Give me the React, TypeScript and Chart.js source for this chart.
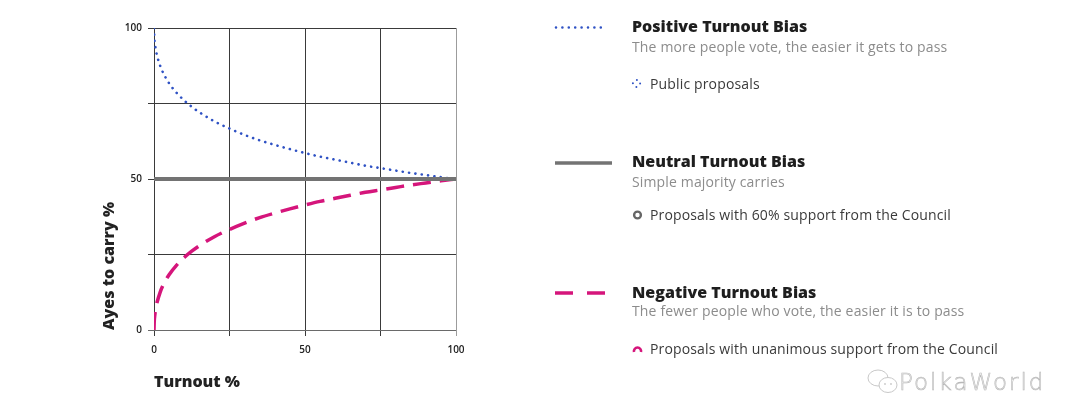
import React, { useEffect, useRef } from "react";
import { Chart, registerables } from "chart.js";

Chart.register(...registerables);

// Turnout (%) sample positions
const turnout = [0, 0.1, 0.25, 0.5, 1, 2, 3, 5, 7.5, 10, 12.5, 15, 20, 25, 30, 35, 40, 45, 50, 55, 60, 65, 70, 75, 80, 85, 90, 95, 100];
// Ayes to carry (%) for each curve
const positiveBias = [100, 96.9, 95.2, 93.4, 90.9, 87.6, 85.2, 81.7, 78.5, 76.0, 73.9, 72.1, 69.1, 66.7, 64.6, 62.8, 61.3, 59.9, 58.6, 57.4, 56.4, 55.4, 54.4, 53.6, 52.8, 52.0, 51.3, 50.6, 50];
const negativeBias = [0, 3.1, 4.8, 6.6, 9.1, 12.4, 14.8, 18.3, 21.5, 24.0, 26.1, 27.9, 30.9, 33.3, 35.4, 37.2, 38.7, 40.1, 41.4, 42.6, 43.6, 44.6, 45.6, 46.4, 47.2, 48.0, 48.7, 49.4, 50];
const neutralTurnout = [0, 100];
const neutralBias = [50, 50];

const tickValuesShown = [0, 50, 100];

const seriesNames = ["Positive Turnout Bias", "Neutral Turnout Bias", "Negative Turnout Bias"];
const seriesDescriptions = [
  "The more people vote, the easier it gets to pass",
  "Simple majority carries",
  "The fewer people who vote, the easier it is to pass",
];
const seriesExamples = [
  "Public proposals",
  "Proposals with 60% support from the Council",
  "Proposals with unanimous support from the Council",
];

const BLUE = "#2f52c4";
const GREY = "#737373";
const MAGENTA = "#d5157b";

function toPoints(xs: number[], ys: number[]) {
  return xs.map((x, i) => ({ x, y: ys[i] }));
}

function ChartCanvas() {
  const ref = useRef<HTMLCanvasElement | null>(null);
  useEffect(() => {
    if (!ref.current) return;
    const chart = new Chart(ref.current, {
      type: "line",
      data: {
        datasets: [
          {
            label: seriesNames[1],
            data: toPoints(neutralTurnout, neutralBias),
            borderColor: GREY,
            borderWidth: 4,
            pointRadius: 0,
          },
          {
            label: seriesNames[0],
            data: toPoints(turnout, positiveBias),
            borderColor: BLUE,
            borderWidth: 2.6,
            borderDash: [0.1, 6.3],
            borderCapStyle: "round",
            pointRadius: 0,
            cubicInterpolationMode: "monotone",
          },
          {
            label: seriesNames[2],
            data: toPoints(turnout, negativeBias),
            borderColor: MAGENTA,
            borderWidth: 3.5,
            borderDash: [18, 9],
            pointRadius: 0,
            cubicInterpolationMode: "monotone",
          },
        ],
      },
      options: {
        animation: false,
        responsive: false,
        maintainAspectRatio: false,
        layout: { padding: { top: 28, right: 84, bottom: 0, left: 0 } },
        plugins: { legend: { display: false }, tooltip: { enabled: false } },
        scales: {
          x: {
            type: "linear",
            min: 0,
            max: 100,
            border: { display: false },
            grid: {
              color: (c: any) => (c.tick && c.tick.value === 100 ? "#9c9c9c" : "#3a3a3a"),
              lineWidth: 1,
              drawTicks: true,
              tickLength: 6,
            },
            ticks: {
              stepSize: 25,
              padding: 8,
              maxRotation: 0,
              color: "#222",
              font: { family: "Open Sans", size: 10, weight: "600" },
              callback: (v: any) => (tickValuesShown.includes(Number(v)) ? String(v) : ""),
            },
            title: {
              display: true,
              text: "Turnout %",
              align: "start",
              color: "#222",
              font: { family: "Open Sans", size: 16, weight: "800" },
              padding: { top: 0, bottom: 6 },
            },
            afterFit: (scale: any) => {
              scale.height = 68;
            },
          },
          y: {
            type: "linear",
            min: 0,
            max: 100,
            border: { display: false },
            grid: {
              color: (c: any) => (c.tick && c.tick.value === 0 ? "#6a6a6a" : "#3a3a3a"),
              lineWidth: 1,
              drawTicks: true,
              tickLength: 6,
            },
            ticks: {
              stepSize: 25,
              padding: 6,
              color: "#222",
              font: { family: "Open Sans", size: 10, weight: "600" },
              callback: (v: any) => (tickValuesShown.includes(Number(v)) ? String(v) : ""),
            },
            title: {
              display: true,
              text: "Ayes to carry %",
              align: "start",
              color: "#222",
              font: { family: "Open Sans", size: 16, weight: "800" },
              padding: { top: 100, bottom: 0 },
            },
            afterFit: (scale: any) => {
              scale.width = 154;
            },
          },
        },
      } as any,
    });
    return () => chart.destroy();
  }, []);
  return (
    <canvas
      ref={ref}
      width={540}
      height={398}
      style={{ position: "absolute", left: 0, top: 0, width: 540, height: 398 }}
    />
  );
}

const titleStyle = (center: number): React.CSSProperties => ({
  position: "absolute",
  left: 632,
  top: center - 10,
  fontSize: 16,
  lineHeight: "20px",
  fontWeight: 800,
  color: "#1e1e1e",
  whiteSpace: "nowrap",
});
const subStyle = (center: number): React.CSSProperties => ({
  position: "absolute",
  left: 632,
  top: center - 9,
  fontSize: 14,
  lineHeight: "18px",
  letterSpacing: 0.15,
  color: "#8c8c8c",
  whiteSpace: "nowrap",
});
const itemStyle = (center: number): React.CSSProperties => ({
  position: "absolute",
  left: 650,
  top: center - 9,
  fontSize: 14,
  lineHeight: "18px",
  letterSpacing: 0.15,
  color: "#3a3a3a",
  whiteSpace: "nowrap",
});

export default function App() {
  return (
    <div
      style={{
        position: "fixed",
        left: 0,
        top: 0,
        width: 1080,
        height: 398,
        background: "#fff",
        fontFamily: "'Open Sans', sans-serif",
        overflow: "hidden",
      }}
    >
      <ChartCanvas />
      <svg
        width={1080}
        height={398}
        style={{ position: "absolute", left: 0, top: 0, pointerEvents: "none" }}
      >
        {/* legend line samples */}
        <line x1={556} y1={27.5} x2={607} y2={27.5} stroke={BLUE} strokeWidth={2.6} strokeDasharray="0 6.4" strokeLinecap="round" />
        <line x1={555} y1={163} x2={612} y2={163} stroke={GREY} strokeWidth={3.5} />
        <line x1={555} y1={293} x2={573} y2={293} stroke={MAGENTA} strokeWidth={3.5} />
        <line x1={587} y1={293} x2={605} y2={293} stroke={MAGENTA} strokeWidth={3.5} />
        {/* example icons */}
        <circle cx={636.5} cy={83.5} r={3.6} fill="none" stroke={BLUE} strokeWidth={2} strokeDasharray="0 5.65" strokeLinecap="round" />
        <circle cx={637.5} cy={215} r={3.4} fill="none" stroke="#666" strokeWidth={2.4} />
        <path d="M 634 352 A 3.6 3.6 0 1 1 641 352" fill="none" stroke={MAGENTA} strokeWidth={2.6} />
        {/* watermark icon */}
        <ellipse cx={878} cy={378} rx={10} ry={8} fill="none" stroke="#c8c8c8" strokeWidth={1} />
        <ellipse cx={888} cy={385} rx={9} ry={7.5} fill="#fff" stroke="#c8c8c8" strokeWidth={1} />
        <circle cx={885} cy={384} r={0.9} fill="#c8c8c8" />
        <circle cx={891} cy={384} r={0.9} fill="#c8c8c8" />
      </svg>

      <div style={titleStyle(26)}>{seriesNames[0]}</div>
      <div style={subStyle(47)}>{seriesDescriptions[0]}</div>
      <div style={itemStyle(83.5)}>{seriesExamples[0]}</div>

      <div style={titleStyle(161)}>{seriesNames[1]}</div>
      <div style={subStyle(182)}>{seriesDescriptions[1]}</div>
      <div style={itemStyle(215)}>{seriesExamples[1]}</div>

      <div style={titleStyle(292)}>{seriesNames[2]}</div>
      <div style={subStyle(311)}>{seriesDescriptions[2]}</div>
      <div style={itemStyle(348.5)}>{seriesExamples[2]}</div>

      <div
        style={{
          position: "absolute",
          left: 899,
          top: 368,
          fontSize: 23,
          lineHeight: "28px",
          fontWeight: 300,
          letterSpacing: 2,
          color: "#f6f6f6",
          WebkitTextStroke: "0.6px #b8b8b8",
          fontFamily: "'DejaVu Sans', sans-serif",
          whiteSpace: "nowrap",
        }}
      >
        PolkaWorld
      </div>
    </div>
  );
}
